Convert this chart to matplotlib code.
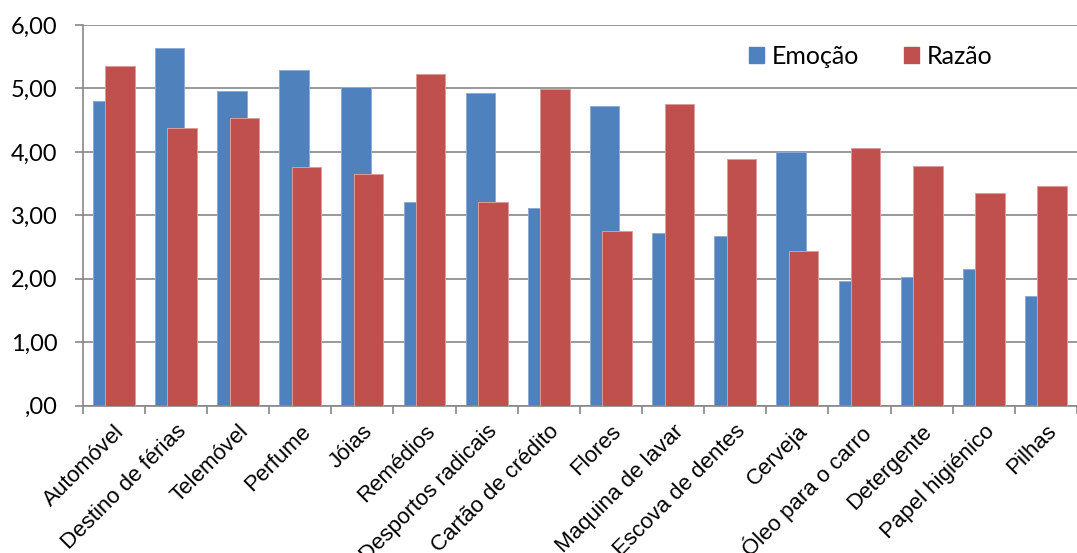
import matplotlib
matplotlib.use("Agg")
import matplotlib.pyplot as plt
from matplotlib.patches import Patch
from matplotlib.transforms import ScaledTranslation
import numpy as np

categories = ["Automóvel", "Destino de férias", "Telemóvel", "Perfume", "Jóias",
              "Remédios", "Desportos radicais", "Cartão de crédito", "Flores",
              "Maquina de lavar", "Escova de dentes", "Cerveja", "Óleo para o carro",
              "Detergente", "Papel higiénico", "Pilhas"]
emocao = [4.80, 5.64, 4.96, 5.29, 5.03, 3.21, 4.93, 3.11, 4.73, 2.72,
          2.67, 4.00, 1.96, 2.03, 2.16, 1.73]
razao = [5.36, 4.38, 4.54, 3.76, 3.65, 5.22, 3.21, 4.99, 2.75, 4.75,
         3.89, 2.44, 4.06, 3.77, 3.35, 3.47]
yticks = [0, 1, 2, 3, 4, 5, 6]
ytick_labels = [",00", "1,00", "2,00", "3,00", "4,00", "5,00", "6,00"]

BLUE = "#4F81BD"
RED = "#C0504D"
GRID = "#878787"

W, H = 1077, 553
fig = plt.figure(figsize=(W / 100, H / 100), dpi=100)
left = 82.7 / W
bottom = 1 - 405.7 / H
top = 1 - 25.0 / H
ax = fig.add_axes([left, bottom, 1 - left, top - bottom])

x = np.arange(len(categories))
bw = 0.472
off = 0.1
ax.bar(x - off, emocao, width=bw, color=BLUE, edgecolor="#8FAAD3",
       linewidth=0.7, zorder=2)
ax.bar(x + off, razao, width=bw, color=RED, edgecolor="#DC9C9A",
       linewidth=0.7, zorder=3)

ax.set_ylim(0, 6)
ax.set_xlim(-0.5, 15.36)
ax.set_yticks(yticks)
ax.set_yticklabels(ytick_labels, fontsize=17, family="Lato")
ax.yaxis.grid(True, color=GRID, linewidth=1.2, zorder=0)
ax.set_axisbelow(True)

# category ticks sit on the boundaries between groups
ax.set_xticks(np.arange(-0.5, len(categories) + 0.5, 1.0))
ax.set_xticklabels([])
ax.set_xticks(x, minor=True)
labels = ax.set_xticklabels(categories, minor=True, rotation=45, ha="right", va="top",
                            rotation_mode="anchor", fontsize=16,
                            family="Liberation Sans")
shift = ScaledTranslation(3 / 72, 0, fig.dpi_scale_trans)
for lab in labels:
    lab.set_transform(lab.get_transform() + shift)
ax.tick_params(axis="x", which="minor", length=0, pad=11)
ax.tick_params(axis="x", which="major", length=6, width=1.2, color=GRID,
               direction="out")
ax.tick_params(axis="y", length=6, width=1.2, color=GRID, direction="out", pad=12)

for s in ["top", "right"]:
    ax.spines[s].set_visible(False)
for s in ["left", "bottom"]:
    ax.spines[s].set_color(GRID)
    ax.spines[s].set_linewidth(1.2)

handles = [Patch(color=BLUE, label="Emoção"), Patch(color=RED, label="Razão")]
fig.legend(handles=handles, loc="center left", bbox_to_anchor=(749 / W, 1 - 56 / H),
           ncol=2, frameon=False, borderpad=0, borderaxespad=0,
           handlelength=0.6, handleheight=0.6, handletextpad=0.3,
           columnspacing=1.8, prop={"family": "Lato", "size": 18})

fig.savefig("out.png", dpi=100)
